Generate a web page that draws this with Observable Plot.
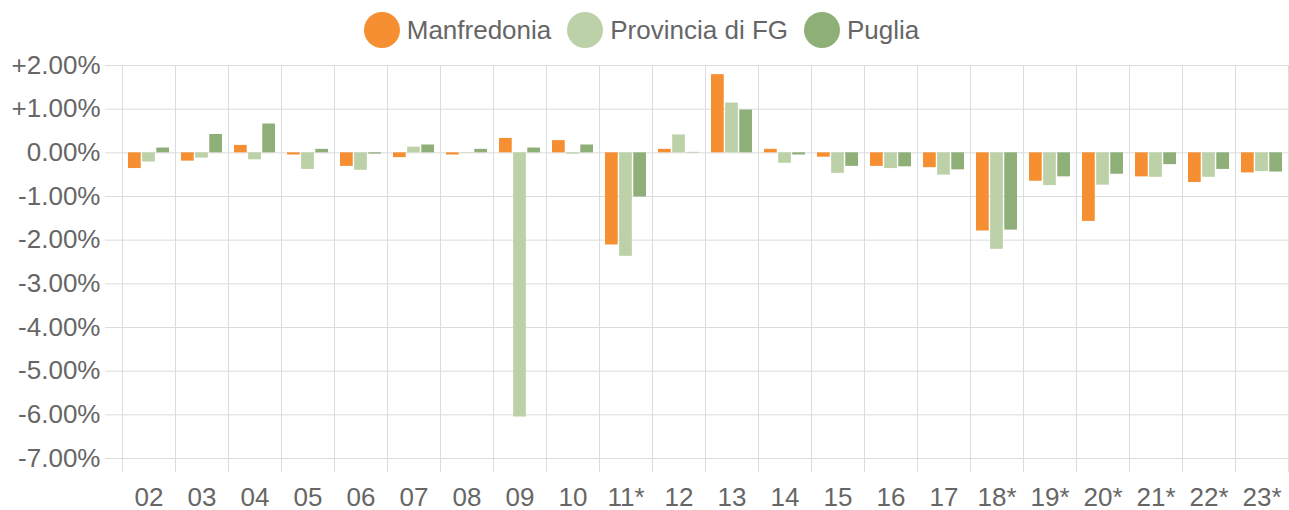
<!DOCTYPE html>
<html>
<head>
<meta charset="utf-8">
<script src="https://cdn.jsdelivr.net/npm/d3@7"></script>
<script src="https://cdn.jsdelivr.net/npm/@observablehq/plot@0.6"></script>
<style>
  html, body { margin: 0; padding: 0; background: #fff; }
  body { width: 1289px; height: 510px; overflow: hidden; font-family: "Liberation Sans", Arial, sans-serif; }
  #legend { height: 46px; display: flex; justify-content: center; align-items: flex-start; padding-right: 6px; box-sizing: border-box; padding-top: 12px; }
  .item { display: flex; align-items: center; height: 36px; margin: 0 8px; }
  .sw { width: 36px; height: 36px; border-radius: 50%; margin-right: 7px; }
  .lab { font-size: 26px; color: #666; line-height: 36px; }
</style>
</head>
<body>
<div id="legend"></div>
<div id="chart"></div>
<script>
const categories = ["02","03","04","05","06","07","08","09","10","11*","12","13","14","15","16","17","18*","19*","20*","21*","22*","23*"];
const manfredonia = [-0.36,-0.19,0.17,-0.05,-0.31,-0.11,-0.05,0.33,0.28,-2.11,0.08,1.79,0.08,-0.10,-0.31,-0.34,-1.79,-0.65,-1.57,-0.55,-0.68,-0.46];
const provincia  = [-0.21,-0.12,-0.16,-0.38,-0.40,0.13,-0.01,-6.05,-0.03,-2.37,0.41,1.14,-0.24,-0.47,-0.36,-0.51,-2.21,-0.75,-0.74,-0.56,-0.56,-0.43];
const puglia     = [0.11,0.42,0.66,0.08,-0.03,0.18,0.08,0.11,0.18,-1.01,0.01,0.98,-0.05,-0.31,-0.32,-0.39,-1.77,-0.55,-0.49,-0.27,-0.38,-0.44];
const seriesNames = ["Manfredonia","Provincia di FG","Puglia"];
const seriesColors = ["#F58F32","#BDD1A8","#8FAF79"];
const yTicks = [2,1,0,-1,-2,-3,-4,-5,-6,-7];

// legend
const legend = document.getElementById("legend");
seriesNames.forEach((n, i) => {
  const it = document.createElement("div"); it.className = "item";
  const sw = document.createElement("div"); sw.className = "sw"; sw.style.background = seriesColors[i];
  const lb = document.createElement("span"); lb.className = "lab"; lb.textContent = n;
  it.appendChild(sw); it.appendChild(lb); legend.appendChild(it);
});

const seriesValues = [manfredonia, provincia, puglia];
const rows = seriesValues.map((vals) => categories.map((c, j) => ({cat: c, value: vals[j]})));

const width = 1289, height = 464;
const marginLeft = 122, marginRight = 1;
const step = (width - marginLeft - marginRight) / categories.length;
const slot = step * 0.8 / 3;
const barW = slot * 0.9;
const inset = (step - barW) / 2;
const grid = "#dcdcdc";

const marks = [
  Plot.ruleY(yTicks, {y: d => d, stroke: grid, strokeWidth: 1, insetLeft: -17}),
  Plot.ruleX(categories, {x: d => d, dx: -step / 2, stroke: grid, strokeWidth: 1, insetBottom: -14}),
  Plot.ruleX([categories[categories.length - 1]], {x: d => d, dx: step / 2, stroke: grid, strokeWidth: 1, insetBottom: -14}),
  ...rows.map((r, i) => Plot.barY(r, {
    x: "cat", y: "value", fill: seriesColors[i],
    dx: (i - 1) * slot, insetLeft: inset, insetRight: inset
  })),
  Plot.axisY({ticks: yTicks, tickSize: 0, tickPadding: 22, fontSize: 26,
    tickFormat: d => (d > 0 ? "+" : "") + d.toFixed(2) + "%", label: null}),
  Plot.axisX({tickSize: 0, tickPadding: 29, fontSize: 26, label: null})
];

const chart = Plot.plot({
  width, height,
  marginLeft, marginRight, marginTop: 19, marginBottom: 52,
  style: {color: "#666", fontFamily: "'Liberation Sans', Arial, sans-serif", fontSize: "26px", background: "#fff", overflow: "visible"},
  x: {type: "band", domain: categories, padding: 0},
  y: {domain: [-7, 2]},
  marks
});
document.getElementById("chart").appendChild(chart);
</script>
</body>
</html>
